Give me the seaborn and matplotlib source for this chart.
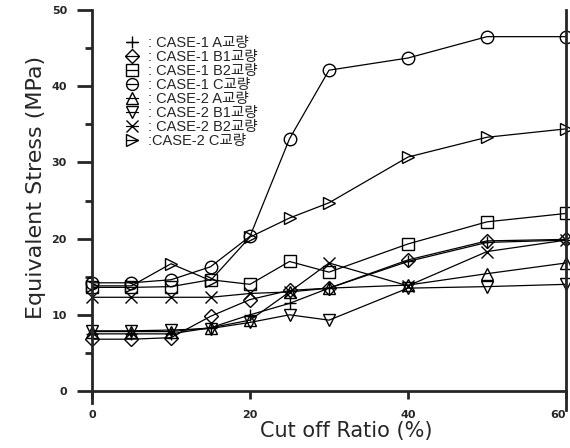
import matplotlib
matplotlib.use("Agg")
import matplotlib.pyplot as plt
import seaborn as sns
import pandas as pd
from matplotlib.ticker import MultipleLocator

# Cut-off ratio (%) on the x axis
ratio = [0, 5, 10, 15, 20, 25, 30, 40, 50, 60]

# Equivalent stress (MPa) for each bridge case
case1_a = [7.5, 7.5, 7.5, 8.3, 10.0, 11.5, 13.5, 17.0, 19.5, 19.8]
case1_b1 = [6.8, 6.8, 7.0, 9.8, 12.0, 13.2, 13.5, 17.2, 19.7, 19.9]
case1_b2 = [13.6, 13.6, 13.7, 14.6, 14.0, 17.0, 15.6, 19.3, 22.2, 23.3]
case1_c = [14.2, 14.2, 14.6, 16.3, 20.3, 33.1, 42.1, 43.7, 46.5, 46.5]
case2_a = [7.8, 7.8, 7.8, 8.3, 9.3, 13.0, 13.5, 13.9, 15.4, 16.8]
case2_b1 = [7.9, 7.9, 8.0, 8.2, 9.0, 10.0, 9.3, 13.5, 13.7, 14.0]
case2_b2 = [12.3, 12.3, 12.3, 12.3, 12.8, 13.0, 16.8, 13.8, 18.3, 19.8]
case2_c = [13.8, 13.8, 16.7, 14.5, 20.2, 22.7, 24.7, 30.7, 33.3, 34.4]

series_names = [": CASE-1 A교량", ": CASE-1 B1교량", ": CASE-1 B2교량", ": CASE-1 C교량",
                ": CASE-2 A교량", ": CASE-2 B1교량", ": CASE-2 B2교량", ":CASE-2 C교량"]
series_values = [case1_a, case1_b1, case1_b2, case1_c, case2_a, case2_b1, case2_b2, case2_c]
series_markers = ["+", "D", "s", "o", "^", "v", "x", ">"]

x_ticks = [0, 20, 40, 60]
y_ticks = [0, 10, 20, 30, 40, 50]

sns.set_style("ticks")
plt.rcParams["font.family"] = ["Liberation Sans", "Noto Sans CJK KR", "DejaVu Sans"]

fig = plt.figure(figsize=(5.7, 4.48), dpi=100)
ax = fig.add_axes([0.1614, 0.1272, 0.8316, 0.8505])

for name, vals, mk in zip(series_names, series_values, series_markers):
    df = pd.DataFrame({"ratio": ratio, "stress": vals})
    size = 7 if mk == "D" else 9
    sns.lineplot(data=df, x="ratio", y="stress", color="black", marker=mk,
                 markersize=size, markeredgewidth=1.0, markeredgecolor="black",
                 markerfacecolor="none", linewidth=0.9, ax=ax, clip_on=False,
                 label=name, legend=False)

ax.set_xlim(0, 60)
ax.set_ylim(0, 50)
tick_font = dict(family="DejaVu Sans", weight="bold", size=8)
ax.set_xticks(x_ticks, [str(v) for v in x_ticks], **tick_font)
ax.set_yticks(y_ticks, [str(v) for v in y_ticks], **tick_font)
ax.yaxis.set_minor_locator(MultipleLocator(5))
for lab in ax.get_xticklabels():
    if lab.get_text() == "60":
        lab.set_horizontalalignment("right")
        lab.set_x(60.6)

for side in ("left", "bottom", "right"):
    ax.spines[side].set_linewidth(2.0)
ax.spines["top"].set_visible(False)
# vertical axis lines run a little past the baseline
ax.spines["left"].set_bounds(-1.6, 50)
ax.spines["right"].set_bounds(-2.5, 50)

ax.tick_params(axis="y", which="major", direction="out", length=11, width=2.0, pad=7)
ax.tick_params(axis="y", which="minor", direction="out", length=5, width=2.0)
ax.tick_params(axis="x", which="major", direction="out", length=6, width=2.0, pad=8)

ax.set_xlabel("Cut off Ratio (%)", fontsize=15, family="DejaVu Sans")
ax.set_ylabel("Equivalent Stress (MPa)", fontsize=16, family="DejaVu Sans")
ax.xaxis.set_label_coords(0.536, -0.08)
ax.yaxis.set_label_coords(-0.098, 0.535)

ax.legend(ax.lines, series_names, loc="upper left", bbox_to_anchor=(0.072, 0.932),
          frameon=False, handlelength=0.8, handletextpad=0.7, labelspacing=0.0,
          fontsize=10.5, markerscale=0.95, borderpad=0, borderaxespad=0)

fig.savefig("out.png", dpi=100)
